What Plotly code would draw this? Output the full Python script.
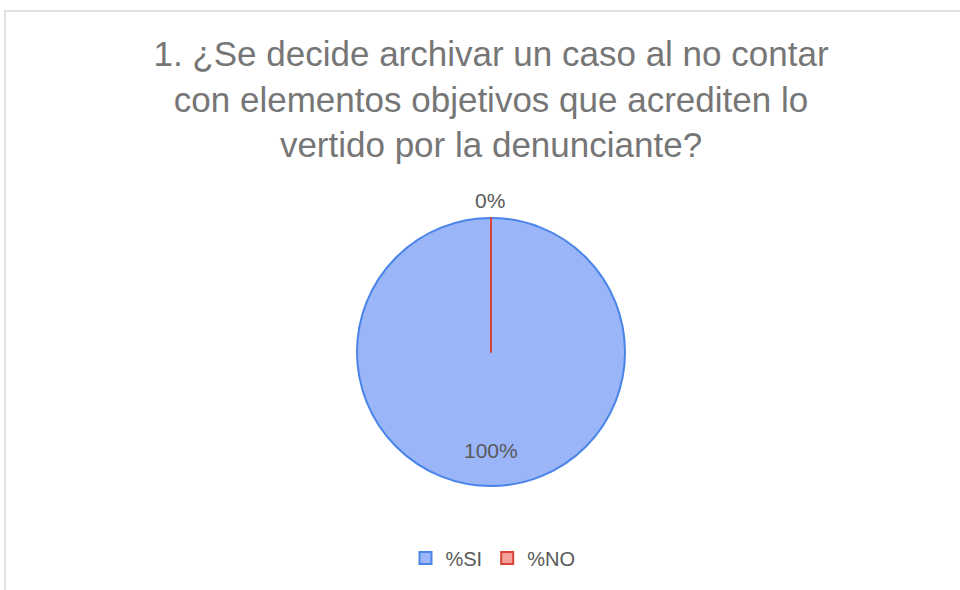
import plotly.graph_objects as go

# data
labels = ["%SI", "%NO"]
values = [100, 0]
colors = ["#9bb5f9", "#f4a09b"]
line_colors = ["#4a84e8", "#dc4238"]

title = ("1. ¿Se decide archivar un caso al no contar<br>"
         "con elementos objetivos que acrediten lo<br>"
         "vertido por la denunciante?")

W, H = 960, 590
cx, cy, r = 491, 352, 134

fig = go.Figure()
fig.add_trace(go.Pie(
    labels=labels, values=values,
    marker=dict(colors=colors, line=dict(color=line_colors, width=2)),
    sort=False, direction="clockwise", rotation=0,
    textinfo="none", hoverinfo="label+percent",
    domain=dict(x=[(cx - r) / W, (cx + r) / W], y=[1 - (cy + r) / H, 1 - (cy - r) / H]),
))

# percentage labels
total = sum(values)
label_pos = [(491, 464), (490, 200)]
for v, (lx, ly) in zip(values, label_pos):
    fig.add_annotation(
        x=lx / W, y=1 - ly / H, xref="paper", yref="paper",
        text=f"{v / total:.0%}", showarrow=False,
        font=dict(size=21, color="#595959"),
    )

# chart border
fig.add_shape(type="rect", xref="paper", yref="paper",
              x0=5 / W, x1=1.02, y0=-0.02, y1=1 - 11 / H,
              line=dict(color="#d9d9d9", width=1.5))

fig.update_layout(
    width=W, height=H,
    paper_bgcolor="white", plot_bgcolor="white",
    margin=dict(l=0, r=0, t=0, b=0),
    font=dict(family="Liberation Sans, Arial, sans-serif", color="#595959"),
    title=dict(text=title, x=491 / W, xanchor="center", y=1 - 66 / H, yanchor="top",
               font=dict(size=35, color="#767676")),
    showlegend=True,
    legend=dict(orientation="h", x=493 / W, xanchor="center", y=1 - 558 / H, yanchor="middle",
                font=dict(size=20, color="#595959"), itemwidth=30),
)

fig.write_html("out.html", config={"displayModeBar": False},
               post_script="document.body.style.margin='0';")
